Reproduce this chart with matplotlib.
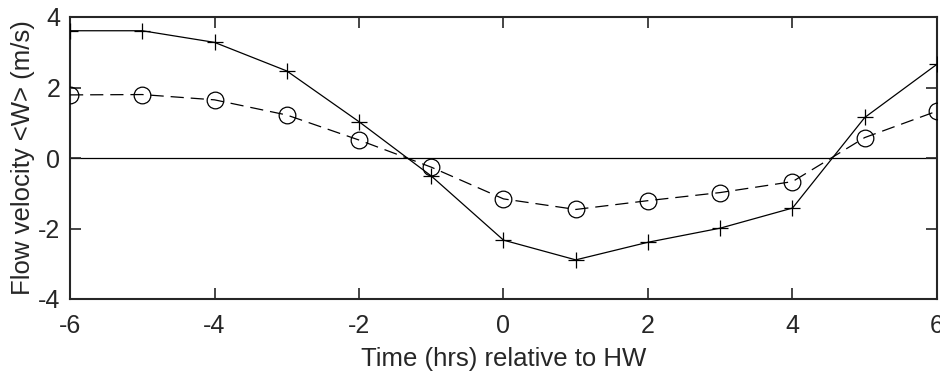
import matplotlib
matplotlib.use("Agg")
import matplotlib.pyplot as plt

hours = [-6, -5, -4, -3, -2, -1, 0, 1, 2, 3, 4, 5, 6]
velocity_solid = [3.61, 3.61, 3.28, 2.47, 1.03, -0.51, -2.33, -2.89, -2.39, -1.99, -1.42, 1.15, 2.66]
velocity_dashed = [1.79, 1.80, 1.65, 1.22, 0.51, -0.26, -1.16, -1.46, -1.21, -0.98, -0.67, 0.58, 1.33]
xticks = [-6, -4, -2, 0, 2, 4, 6]
yticks = [-4, -2, 0, 2, 4]

plt.rcParams['font.family'] = ['Liberation Sans', 'DejaVu Sans']
plt.rcParams['lines.scale_dashes'] = False
plt.rcParams['axes.unicode_minus'] = False

fig = plt.figure(figsize=(9.4, 3.74), dpi=100)
ax = fig.add_axes([70/940, 1-299/374, (937-70)/940, (299-17)/374])

ax.axhline(0, color='black', lw=0.9, zorder=1)
ax.plot(hours, velocity_solid, color='black', lw=0.9, marker='+', ms=11, mew=0.9, zorder=3)
ax.plot(hours, velocity_dashed, color='black', lw=0.9, dashes=(9.5, 5), marker='o', ms=12,
        mfc='none', mew=0.9, zorder=3)

ax.set_xlim(-6, 6)
ax.set_ylim(-4, 4)
ax.set_xticks(xticks)
ax.set_yticks(yticks)
ax.tick_params(direction='in', top=True, right=True, length=8, width=1.2,
               labelsize=18, colors='#262626')
ax.tick_params(axis='x', pad=10.5)
ax.tick_params(axis='y', pad=7)
for s in ax.spines.values():
    s.set_linewidth(1.5)
    s.set_color('#262626')
ax.set_xlabel('Time (hrs) relative to HW', fontsize=18.5, color='#262626', labelpad=7)
ax.set_ylabel('Flow velocity <W> (m/s)', fontsize=18.5, color='#262626', labelpad=2)

fig.savefig('out.png', dpi=100)
